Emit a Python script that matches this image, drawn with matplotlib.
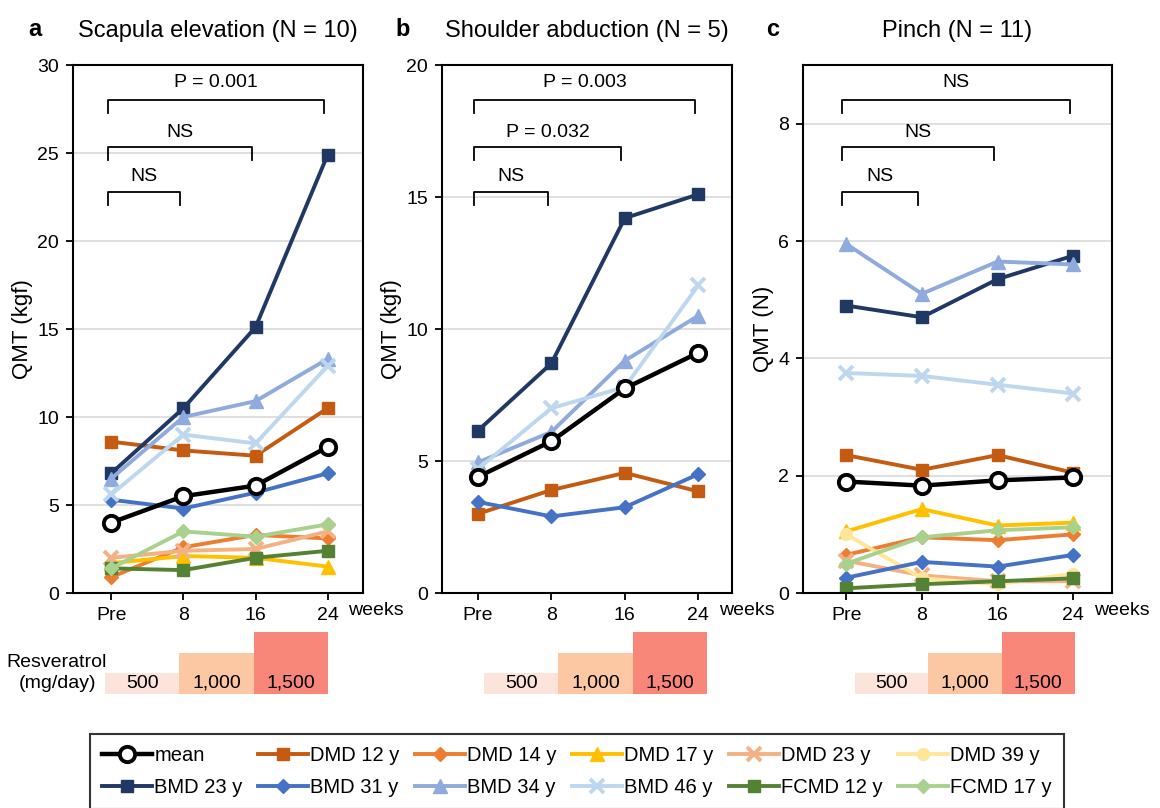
import numpy as np
import matplotlib
matplotlib.use("Agg")
import matplotlib.pyplot as plt
from matplotlib.lines import Line2D

plt.rcParams['font.family'] = ['Liberation Sans', 'DejaVu Sans']

# time points
weeks = ["Pre", "8", "16", "24"]

# subjects, colours, markers (legend order)
subjects = ["DMD 12 y", "DMD 14 y", "DMD 17 y", "DMD 23 y", "DMD 39 y",
            "BMD 23 y", "BMD 31 y", "BMD 34 y", "BMD 46 y", "FCMD 12 y", "FCMD 17 y"]
colors = ["#C55A11", "#ED7D31", "#FFC000", "#F4B183", "#FFE699",
          "#203864", "#4472C4", "#8FAADC", "#BDD7EE", "#548235", "#A9D18E"]
markers = ["s", "D", "^", "x", "o", "s", "D", "^", "x", "s", "D"]

# panel a: scapula elevation (kgf)
scapula = {
    "DMD 12 y": [8.6, 8.1, 7.8, 10.5],
    "DMD 14 y": [0.9, 2.6, 3.3, 3.1],
    "DMD 17 y": [1.7, 2.1, 2.0, 1.5],
    "DMD 23 y": [2.0, 2.4, 2.5, 3.5],
    "BMD 23 y": [6.8, 10.5, 15.1, 24.9],
    "BMD 31 y": [5.3, 4.8, 5.7, 6.8],
    "BMD 34 y": [6.5, 10.0, 10.9, 13.3],
    "BMD 46 y": [5.6, 9.0, 8.5, 12.9],
    "FCMD 12 y": [1.4, 1.3, 2.0, 2.4],
    "FCMD 17 y": [1.4, 3.5, 3.2, 3.9],
}
scapula_mean = [4.0, 5.5, 6.1, 8.3]

# panel b: shoulder abduction (kgf)
shoulder = {
    "DMD 12 y": [3.0, 3.9, 4.55, 3.85],
    "BMD 23 y": [6.15, 8.7, 14.2, 15.1],
    "BMD 31 y": [3.45, 2.9, 3.25, 4.5],
    "BMD 34 y": [4.95, 6.1, 8.8, 10.5],
    "BMD 46 y": [4.7, 7.0, 7.8, 11.65],
}
shoulder_mean = [4.4, 5.75, 7.75, 9.1]

# panel c: pinch (N)
pinch = {
    "DMD 12 y": [2.35, 2.1, 2.35, 2.05],
    "DMD 14 y": [0.65, 0.95, 0.9, 1.0],
    "DMD 17 y": [1.05, 1.43, 1.15, 1.2],
    "DMD 23 y": [0.55, 0.3, 0.2, 0.2],
    "DMD 39 y": [1.0, 0.25, 0.15, 0.33],
    "BMD 23 y": [4.9, 4.7, 5.35, 5.75],
    "BMD 31 y": [0.26, 0.53, 0.45, 0.65],
    "BMD 34 y": [5.95, 5.1, 5.65, 5.6],
    "BMD 46 y": [3.75, 3.7, 3.55, 3.4],
    "FCMD 12 y": [0.08, 0.15, 0.2, 0.25],
    "FCMD 17 y": [0.5, 0.95, 1.07, 1.12],
}
pinch_mean = [1.9, 1.83, 1.92, 1.97]

# brackets: (end index, label)
scapula_stats = [(3, "P = 0.001"), (2, "NS"), (1, "NS")]
shoulder_stats = [(3, "P = 0.003"), (2, "P = 0.032"), (1, "NS")]
pinch_stats = [(3, "NS"), (2, "NS"), (1, "NS")]

# resveratrol dose
dose = [500, 1000, 1500]
dose_labels = ["500", "1,000", "1,500"]
dose_colors = ["#FCE4DA", "#FCC8A4", "#F8877A"]

W, H = 1160, 808
fig = plt.figure(figsize=(W / 100, H / 100), dpi=100)


def px_axes(x0, x1, y0, y1):
    return fig.add_axes([x0 / W, 1 - y1 / H, (x1 - x0) / W, (y1 - y0) / H])


panels = [
    dict(letter="a", title="Scapula elevation (N = 10)", data=scapula, mean=scapula_mean,
         stats=scapula_stats, ylabel="QMT (kgf)", ylim=(0, 30), yticks=np.arange(0, 31, 5),
         box=(73, 363), xlim=(-0.53, 3.49), dosebox=(105, 328), letter_x=28),
    dict(letter="b", title="Shoulder abduction (N = 5)", data=shoulder, mean=shoulder_mean,
         stats=shoulder_stats, ylabel="QMT (kgf)", ylim=(0, 20), yticks=np.arange(0, 21, 5),
         box=(442, 732), xlim=(-0.49, 3.46), dosebox=(484, 707), letter_x=395),
    dict(letter="c", title="Pinch (N = 11)", data=pinch, mean=pinch_mean,
         stats=pinch_stats, ylabel="QMT (N)", ylim=(0, 9), yticks=np.arange(0, 9, 2),
         box=(803, 1112), xlim=(-0.57, 3.51), dosebox=(855, 1075), letter_x=766),
]

x = np.arange(len(weeks))
fs = 14
LW = 2.8


def subj_style(col, mk):
    if mk == "x":
        return dict(color=col, lw=LW, marker=mk, ms=10, mew=2.8)
    if mk == "D":
        return dict(color=col, lw=LW, marker=mk, ms=7.5)
    if mk == "^":
        return dict(color=col, lw=LW, marker=mk, ms=9.5)
    return dict(color=col, lw=LW, marker=mk, ms=8.5)


mean_style = dict(color="black", lw=3.2, marker="o", ms=11, mfc="white",
                  mec="black", mew=2.8)

for p in panels:
    ax = px_axes(p["box"][0], p["box"][1], 65, 593)
    ax.set_xlim(*p["xlim"])
    ax.set_ylim(*p["ylim"])
    ax.set_yticks(p["yticks"])
    ax.set_xticks(x)
    ax.set_xticklabels(weeks)
    ax.tick_params(labelsize=fs, length=5, width=1.3, pad=5)
    for s in ax.spines.values():
        s.set_linewidth(1.5)
    ax.yaxis.grid(True, color="#d9d9d9", lw=1.2)
    ax.set_axisbelow(True)
    ax.set_ylabel(p["ylabel"], fontsize=16, labelpad=3)

    for name, col, mk in zip(subjects, colors, markers):
        if name not in p["data"]:
            continue
        ax.plot(x, p["data"][name], **subj_style(col, mk))
    ax.plot(x, p["mean"], zorder=5, **mean_style)

    # significance brackets
    ty = [0.934, 0.845, 0.759]
    tt = [0.967, 0.872, 0.789]
    trans = ax.get_xaxis_transform()
    for (end, lab), yb, yt in zip(p["stats"], ty, tt):
        x0, x1 = -0.05, end - 0.05
        ax.plot([x0, x0, x1, x1], [yb - 0.024, yb, yb, yb - 0.024], color="black",
                lw=1.3, transform=trans, clip_on=False)
        ax.text((x0 + x1) / 2, yt, lab, ha="center", va="center", fontsize=fs, transform=trans)

    ax.annotate("weeks", xy=(3, 0), xycoords=trans, xytext=(15, -6.5),
                textcoords="offset points", ha="left", va="top", fontsize=fs)

    cx = (p["box"][0] + p["box"][1]) / 2
    fig.text(cx / W, 1 - 31 / H, p["title"], ha="center", va="center", fontsize=17)
    fig.text(p["letter_x"] / W, 1 - 29 / H, p["letter"], ha="left", va="center",
             fontsize=17, fontweight="bold")

    # dose bars
    dx = px_axes(p["dosebox"][0], p["dosebox"][1], 632, 694)
    dx.bar(np.arange(3), dose, width=1, align="edge", color=dose_colors, edgecolor="none")
    for i, lab in enumerate(dose_labels):
        dx.text(i + 0.5, 50, lab, ha="center", va="bottom", fontsize=fs)
    dx.set_xlim(0, 3)
    dx.set_ylim(0, 1500)
    dx.axis("off")

fig.text(57 / W, 1 - 673 / H, "Resveratrol\n(mg/day)", ha="center", va="center",
         fontsize=fs, linespacing=1.25)

# legend
mean_h = Line2D([], [], **mean_style)
subj_h = [Line2D([], [], **subj_style(c, m)) for c, m in zip(colors, markers)]
row1_h = [mean_h] + subj_h[:5]
row1_l = ["mean"] + subjects[:5]
row2_h = subj_h[5:]
row2_l = subjects[5:]
handles, labels = [], []
for a, b, c, d in zip(row1_h, row1_l, row2_h, row2_l):
    handles += [a, c]
    labels += [b, d]
leg = fig.legend(handles, labels, ncol=6, loc="upper left",
                 bbox_to_anchor=(90 / W, 1 - 734 / H), borderaxespad=0, fontsize=14.5,
                 handlelength=2.5, handletextpad=0.1, columnspacing=0.75,
                 labelspacing=0.65, borderpad=0.6, frameon=True, fancybox=False)
leg.get_frame().set_edgecolor("black")
leg.get_frame().set_linewidth(1.5)

fig.savefig("out.png", dpi=100)
